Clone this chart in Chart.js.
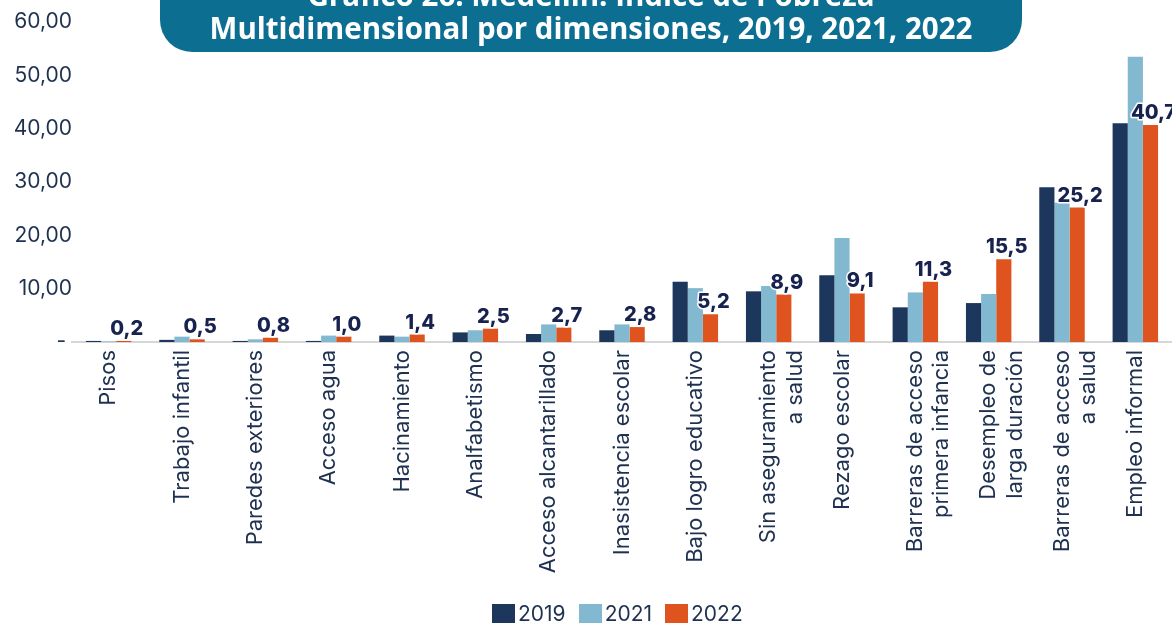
<!DOCTYPE html>
<html>
<head>
<meta charset="utf-8">
<script src="https://cdn.jsdelivr.net/npm/chart.js@4"></script>
<style>
  html, body { margin: 0; padding: 0; background: #fff; }
  .wrap { position: relative; width: 1172px; height: 623px; overflow: hidden; }
  .title {
    position: absolute; left: 160px; top: -31px; width: 862px; height: 83px;
    background: #0c6f92; border-radius: 32px;
    color: #fff; font-family: 'Open Sans', sans-serif; font-weight: 700;
    font-size: 29.5px; line-height: 33px; text-align: center;
    padding-top: 9px; box-sizing: border-box; white-space: nowrap;
  }
  .legend {
    position: absolute; left: 492px; top: 604px; height: 19px;
    display: flex; align-items: center;
    font-family: Inter, sans-serif; font-size: 21px; color: #1e3150;
  }
  .legend span.box { display: inline-block; width: 23px; height: 19px; margin-right: 3px; }
  .legend span.txt { margin-right: 13px; line-height: 19px; }
</style>
</head>
<body>
<div class="wrap">
  <canvas id="chart" width="1172" height="623"></canvas>
  <div class="title">Gráfico 26. Medellín: Índice de Pobreza<br>Multidimensional por dimensiones, 2019, 2021, 2022</div>
  <div class="legend" id="legend"></div>
</div>
<script>
const categories = [
  'Pisos', 'Trabajo infantil', 'Paredes exteriores', 'Acceso agua', 'Hacinamiento',
  'Analfabetismo', 'Acceso alcantarillado', 'Inasistencia escolar', 'Bajo logro educativo',
  ['Sin aseguramiento', 'a salud'], 'Rezago escolar', ['Barreras de acceso', 'primera infancia'],
  ['Desempleo de', 'larga duración'], ['Barreras de acceso', 'a salud'], 'Empleo informal'
];
const years = ['2019', '2021', '2022'];
const values2019 = [0.2, 0.4, 0.2, 0.2, 1.2, 1.8, 1.5, 2.2, 11.3, 9.5, 12.5, 6.5, 7.3, 29.0, 41.0];
const values2021 = [0.1, 1.0, 0.5, 1.2, 1.0, 2.2, 3.3, 3.3, 10.1, 10.5, 19.5, 9.3, 9.0, 26.1, 53.5];
const values2022 = [0.2, 0.5, 0.8, 1.0, 1.4, 2.5, 2.7, 2.8, 5.2, 8.9, 9.1, 11.3, 15.5, 25.2, 40.7];
const yTicks = [0, 10, 20, 30, 40, 50, 60];

const colors = ['#1c365c', '#82b9d0', '#de531e'];
const textColor = '#1e3150';
const fontName = "Inter, sans-serif";

// number format like the source: 10,00 and a dash for zero
const fmt = (v, d) => v.toFixed(d).replace('.', ',');

// labels over the 2022 bars
const valueLabels = {
  id: 'valueLabels',
  afterDatasetsDraw(chart) {
    const ctx = chart.ctx;
    const meta = chart.getDatasetMeta(2);
    ctx.save();
    ctx.font = "800 20px " + fontName;
    ctx.textAlign = 'center';
    ctx.textBaseline = 'bottom';
    ctx.lineJoin = 'round';
    ctx.lineWidth = 3;
    ctx.strokeStyle = '#fff';
    ctx.fillStyle = '#17224f';
    meta.data.forEach((bar, i) => {
      const txt = fmt(values2022[i], 1);
      ctx.strokeText(txt, bar.x + 3, bar.y - 2);
      ctx.fillText(txt, bar.x + 3, bar.y - 2);
    });
    ctx.restore();
  }
};

const ctx = document.getElementById('chart').getContext('2d');
const chart = new Chart(ctx, {
  type: 'bar',
  data: {
    labels: categories,
    datasets: [values2019, values2021, values2022].map((d, i) => ({
      label: years[i],
      data: d,
      backgroundColor: colors[i],
      categoryPercentage: 0.62,
      barPercentage: 1.0
    }))
  },
  options: {
    responsive: false,
    animation: false,
    layout: { padding: { top: 22, right: 0, left: 0, bottom: 0 } },
    plugins: {
      title: { display: false },
      tooltip: { enabled: false },
      legend: { display: false }
    },
    scales: {
      x: {
        afterFit: s => { s.height = 281; },
        grid: { display: false, drawTicks: false },
        border: { color: '#d6d6d6', width: 2 },
        ticks: {
          autoSkip: false, minRotation: 90, maxRotation: 90, padding: 8,
          color: textColor, font: { family: fontName, size: 22 }
        }
      },
      y: {
        min: 0, max: 60,
        afterBuildTicks: s => { s.ticks = yTicks.map(v => ({ value: v })); },
        afterFit: s => { s.width = 72; },
        grid: { display: false, drawTicks: false },
        border: { display: false },
        ticks: {
          padding: 0,
          color: textColor, font: { family: fontName, size: 21 },
          callback: v => v === 0 ? '- ' : fmt(v, 2)
        }
      }
    }
  },
  plugins: [valueLabels]
});

// legend below the axis labels, built from the chart's datasets
const legendEl = document.getElementById('legend');
chart.data.datasets.forEach(ds => {
  const box = document.createElement('span');
  box.className = 'box';
  box.style.background = ds.backgroundColor;
  const txt = document.createElement('span');
  txt.className = 'txt';
  txt.textContent = ds.label;
  legendEl.append(box, txt);
});
</script>
</body>
</html>
